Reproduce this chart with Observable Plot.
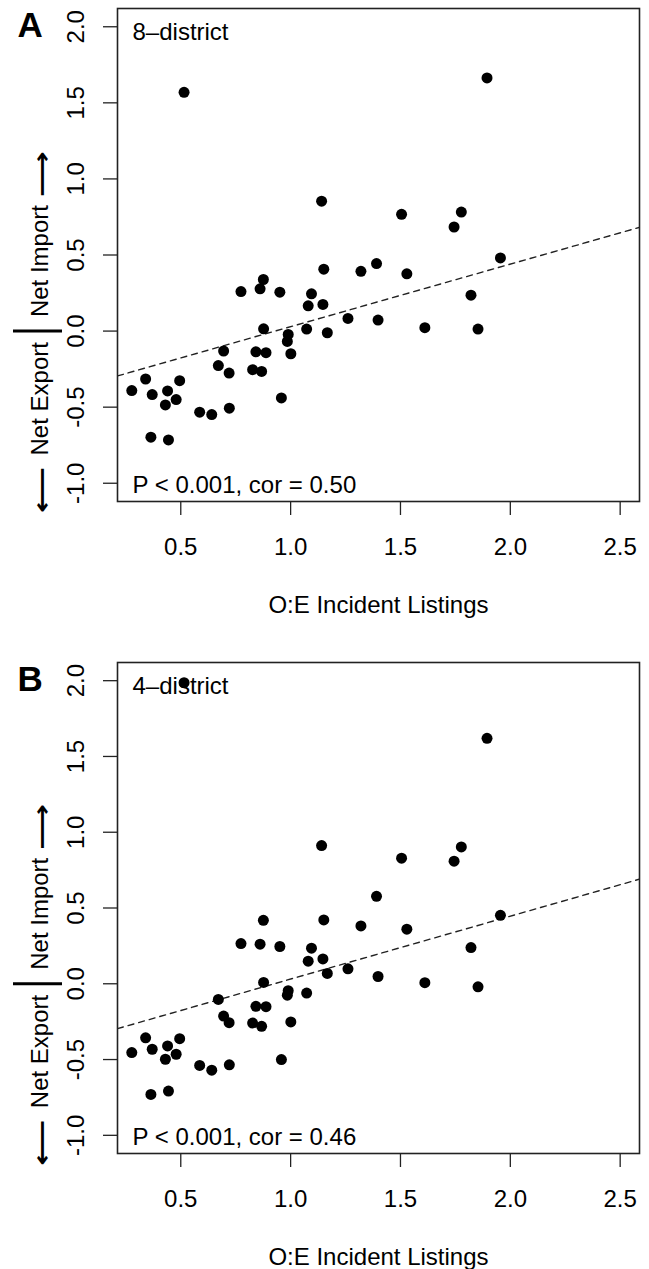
<!DOCTYPE html>
<html>
<head>
<meta charset="utf-8">
<script src="https://cdn.jsdelivr.net/npm/d3@7"></script>
<script src="https://cdn.jsdelivr.net/npm/@observablehq/plot@0.6"></script>
<style>
  html, body { margin: 0; padding: 0; background: #fff; }
  svg { display: block; }
</style>
</head>
<body>
<div id="chart"></div>
<script>
// O:E incident listings (shared x for both panels)
const oeListings = [1.141, 1.505, 1.777, 1.744, 1.955, 1.151, 1.320, 1.391, 1.529, 1.821,
  1.611, 1.853, 1.398, 1.261, 1.167, 1.073, 1.147, 1.080, 1.095, 0.951,
  0.876, 0.861, 0.774, 0.877, 0.989, 0.985, 1.001, 0.888, 0.842, 0.868,
  0.827, 0.695, 0.671, 0.720, 0.958, 0.721, 0.641, 0.586, 0.495, 0.479,
  0.440, 0.430, 0.370, 0.340, 0.277, 0.364, 0.444, 0.515, 1.894];
// Net import (+) / export (-), 8-district model
const net8 = [0.854, 0.767, 0.782, 0.684, 0.481, 0.407, 0.393, 0.444, 0.376, 0.236,
  0.022, 0.013, 0.072, 0.083, -0.011, 0.013, 0.175, 0.166, 0.245, 0.256,
  0.339, 0.278, 0.260, 0.015, -0.022, -0.068, -0.149, -0.142, -0.136, -0.265,
  -0.254, -0.131, -0.227, -0.276, -0.439, -0.507, -0.549, -0.533, -0.326, -0.450,
  -0.393, -0.485, -0.417, -0.315, -0.391, -0.697, -0.715, 1.569, 1.664];
// Net import (+) / export (-), 4-district model
const net4 = [0.912, 0.829, 0.903, 0.809, 0.452, 0.421, 0.382, 0.577, 0.360, 0.239,
  0.007, -0.020, 0.048, 0.099, 0.068, -0.061, 0.164, 0.149, 0.235, 0.246,
  0.419, 0.261, 0.265, 0.009, -0.046, -0.075, -0.252, -0.151, -0.149, -0.281,
  -0.259, -0.213, -0.103, -0.257, -0.500, -0.535, -0.570, -0.539, -0.362, -0.465,
  -0.410, -0.498, -0.432, -0.357, -0.454, -0.730, -0.708, 1.987, 1.620];
// regression lines: [intercept, slope]
const fit8 = [-0.382, 0.411];
const fit4 = [-0.384, 0.415];
const panelLetters = ["A", "B"];
const panelNames = ["8–district", "4–district"];
const statLabels = ["P < 0.001, cor = 0.50", "P < 0.001, cor = 0.46"];
const xTicks = [0.5, 1.0, 1.5, 2.0, 2.5];
const yTicks = [-1.0, -0.5, 0.0, 0.5, 1.0, 1.5, 2.0];
const xLabel = "O:E Incident Listings";
const yLabelLow = "Net Export";
const yLabelHigh = "Net Import";
const arrowDown = "⟵";
const arrowUp = "⟶";
const xDomain = [0.212, 2.588];
const yDomain = [-1.12, 2.12];

const font = "'Liberation Sans', Arial, Helvetica, sans-serif";
const fs = 24;

function panel(i, yVals, fit, height, marginTop, marginBottom) {
  const data = oeListings.map((x, k) => ({x, y: yVals[k]}));
  const line = xDomain.map(x => ({x, y: fit[0] + fit[1] * x}));
  const yl = {frameAnchor: "left", dx: -77, rotate: -90, fontSize: fs};
  return Plot.plot({
    width: 649,
    height,
    marginTop,
    marginBottom,
    marginLeft: 117,
    marginRight: 10,
    x: {domain: xDomain},
    y: {domain: yDomain},
    style: {fontFamily: font, fontSize: fs + "px", color: "#000", background: "#fff", overflow: "visible"},
    marks: [
      Plot.axisX({ticks: xTicks, tickSize: 14, tickPadding: 22, tickFormat: d3.format(".1f"), label: null, stroke: "#222", strokeWidth: 1.3}),
      Plot.axisY({ticks: yTicks, tickSize: 14, tickRotate: -90, tickPadding: 20, tickFormat: d => d3.format(".1f")(d).replace("−", "-"), label: null, stroke: "#222", strokeWidth: 1.3}),
      Plot.line(line, {x: "x", y: "y", stroke: "#222", strokeWidth: 1.4, strokeDasharray: "6,5", clip: true}),
      Plot.dot(data, {x: "x", y: "y", r: 5.5, fill: "#000", stroke: null}),
      Plot.frame({stroke: "#222", strokeWidth: 1.6}),
      Plot.text([panelNames[i]], {frameAnchor: "top-left", dx: 15, dy: 14, fontSize: fs}),
      Plot.text([statLabels[i]], {frameAnchor: "bottom-left", dx: 15, dy: -9, fontSize: fs}),
      Plot.text([panelLetters[i]], {frameAnchor: "top-left", dx: -100, dy: 4, fontSize: 35, fontWeight: "bold", lineAnchor: "top"}),
      Plot.text([xLabel], {frameAnchor: "bottom", dy: 94, lineAnchor: "top", fontSize: fs}),
      Plot.text([0], {...yl, y: d => d, text: [yLabelLow], dy: 11, textAnchor: "end"}),
      Plot.text([0], {...yl, y: d => d, text: [arrowDown], dy: 136, dx: -75, textAnchor: "end", fontFamily: "DejaVu Sans", fontWeight: "bold", fill: "#000"}),
      Plot.text([0], {...yl, y: d => d, text: [yLabelHigh], dy: -14, textAnchor: "start"}),
      Plot.text([0], {...yl, y: d => d, text: [arrowUp], dy: -134, dx: -75, textAnchor: "start", fontFamily: "DejaVu Sans", fontWeight: "bold", fill: "#000"}),
      Plot.ruleY([0], {insetLeft: -104, insetRight: 577, stroke: "#000", strokeWidth: 3})
    ]
  });
}

const root = document.getElementById("chart");
const svgs = [panel(0, net8, fit8, 634, 8, 133), panel(1, net4, fit4, 635, 28, 116)];
svgs.forEach(s => root.appendChild(s));
// stretch the arrow glyphs along their direction to R's long-arrow length
svgs.forEach(s => {
  d3.select(s).selectAll("text").filter(function() {
    return this.textContent === arrowDown || this.textContent === arrowUp;
  }).each(function() {
    const len = this.getComputedTextLength();
    const k = len > 0 ? 46 / len : 1;
    const t = this.getAttribute("transform") || "";
    this.setAttribute("transform", t + ` scale(${k},1)`);
  });
});
</script>
</body>
</html>
